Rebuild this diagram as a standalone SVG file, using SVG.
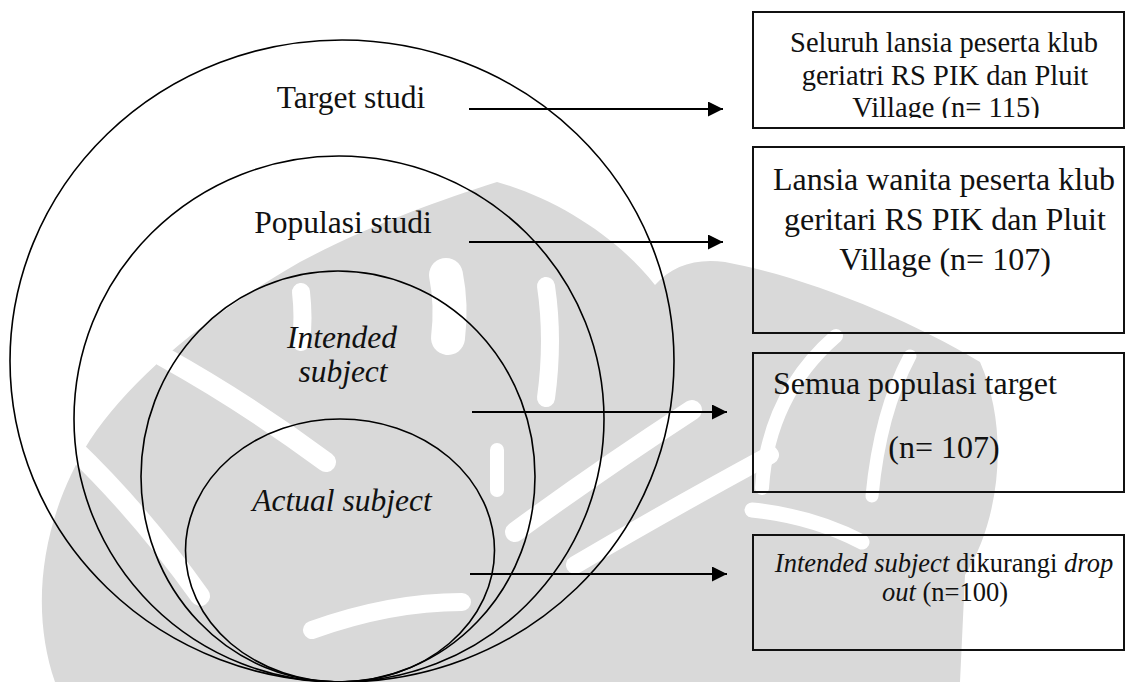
<svg xmlns="http://www.w3.org/2000/svg" width="1126" height="682" viewBox="0 0 1126 682">
  <style>
    .ring { fill: none; stroke: #000; stroke-width: 1.6; }
    .box { fill: none; stroke: #111; stroke-width: 2; }
    .arrow { stroke: #000; stroke-width: 2; fill: none; marker-end: url(#head); }
    .lbl { font-family: "Liberation Serif", "Times New Roman", serif; font-size: 31.5px; fill: #111; text-anchor: middle; }
    .it { font-style: italic; }
    .txt { font-family: "Liberation Serif", "Times New Roman", serif; fill: #111; text-anchor: middle; }
    .wm { fill: #d9d9d9; }
    .gap { fill: none; stroke: #fff; stroke-linecap: round; }
  </style>
  <defs>
    <marker id="head" markerUnits="userSpaceOnUse" markerWidth="16" markerHeight="16" refX="15" refY="7.5" orient="auto">
      <path d="M0,0 L15,7.5 L0,15 Z" fill="#000"/>
    </marker>
    <clipPath id="clip1">
      <rect x="753" y="12" width="373" height="106"/>
    </clipPath>
  </defs>

  <rect width="1126" height="682" fill="#fff"/>

  <!-- faint emblem in the background -->
  <g id="watermark">
    <path class="wm" d="M55,682 C30,610 40,520 90,440 C130,380 200,320 300,262 C370,225 440,200 497,182 C560,200 620,240 655,285 C672,266 695,258 725,262 C810,278 910,320 980,362 C1010,430 1000,520 965,575 L960,682 Z"/>
    <g class="gap">
      <path d="M546,286 Q554,340 546,398" stroke-width="18"/>
      <path d="M515,532 Q600,470 692,410" stroke-width="20"/>
      <path d="M575,565 Q665,512 770,455" stroke-width="18"/>
      <path d="M762,488 Q768,395 836,336" stroke-width="14"/>
      <path d="M872,496 Q880,412 910,356" stroke-width="13"/>
      <path d="M752,510 Q812,516 862,542" stroke-width="15"/>
      <path d="M301,292 Q304,318 301,342" stroke-width="18"/>
      <path d="M446,275 Q452,305 448,338" stroke-width="34"/>
      <path d="M162,356 Q245,402 326,462" stroke-width="20"/>
      <path d="M72,447 Q140,512 200,596" stroke-width="20"/>
      <path d="M312,630 Q390,602 462,602" stroke-width="18"/>
      <path d="M497,450 L497,490" stroke-width="14"/>
    </g>
  </g>

  <!-- nested study sets, all touching at the bottom -->
  <g id="target-studi">
    <ellipse class="ring" cx="342" cy="361" rx="332" ry="321"/>
    <text class="lbl" x="351" y="108">Target studi</text>
  </g>
  <g id="populasi-studi">
    <ellipse class="ring" cx="339" cy="419" rx="265" ry="263"/>
    <text class="lbl" x="343" y="233">Populasi studi</text>
  </g>
  <g id="intended-subject">
    <ellipse class="ring" cx="338" cy="476.5" rx="197" ry="205.5"/>
    <text class="lbl it" x="342" y="348">Intended</text>
    <text class="lbl it" x="343" y="382">subject</text>
  </g>
  <g id="actual-subject">
    <ellipse class="ring" cx="340" cy="550.5" rx="154.5" ry="131.5"/>
    <text class="lbl it" x="342" y="511">Actual subject</text>
  </g>

  <!-- descriptions -->
  <g id="box-target">
    <rect class="box" x="753" y="12" width="371" height="116"/>
    <g clip-path="url(#clip1)" class="txt" font-size="28.5">
      <text x="944" y="52">Seluruh lansia peserta klub</text>
      <text x="945" y="85">geriatri RS PIK dan Pluit</text>
      <text x="946" y="117">Village (n= 115)</text>
    </g>
  </g>
  <g id="box-populasi">
    <rect class="box" x="753" y="147" width="371" height="186"/>
    <g class="txt" font-size="32">
      <text x="944" y="190">Lansia wanita peserta klub</text>
      <text x="945" y="230">geritari RS PIK dan Pluit</text>
      <text x="945" y="270">Village (n= 107)</text>
    </g>
  </g>
  <g id="box-intended">
    <rect class="box" x="753" y="353" width="371" height="139"/>
    <g class="txt" font-size="32">
      <text x="773" y="394" text-anchor="start">Semua populasi target</text>
      <text x="944" y="458">(n= 107)</text>
    </g>
  </g>
  <g id="box-actual">
    <rect class="box" x="753" y="535" width="371" height="115"/>
    <g class="txt" font-size="26.5">
      <text x="944" y="572"><tspan font-style="italic">Intended subject</tspan> dikurangi <tspan font-style="italic">drop</tspan></text>
      <text x="945" y="601"><tspan font-style="italic">out</tspan> (n=100)</text>
    </g>
  </g>

  <g id="connectors">
    <line class="arrow" x1="469" y1="109" x2="723" y2="109"/>
    <line class="arrow" x1="469" y1="242" x2="723" y2="242"/>
    <line class="arrow" x1="472" y1="412" x2="727" y2="412"/>
    <line class="arrow" x1="470" y1="574" x2="727" y2="574"/>
  </g>
</svg>
